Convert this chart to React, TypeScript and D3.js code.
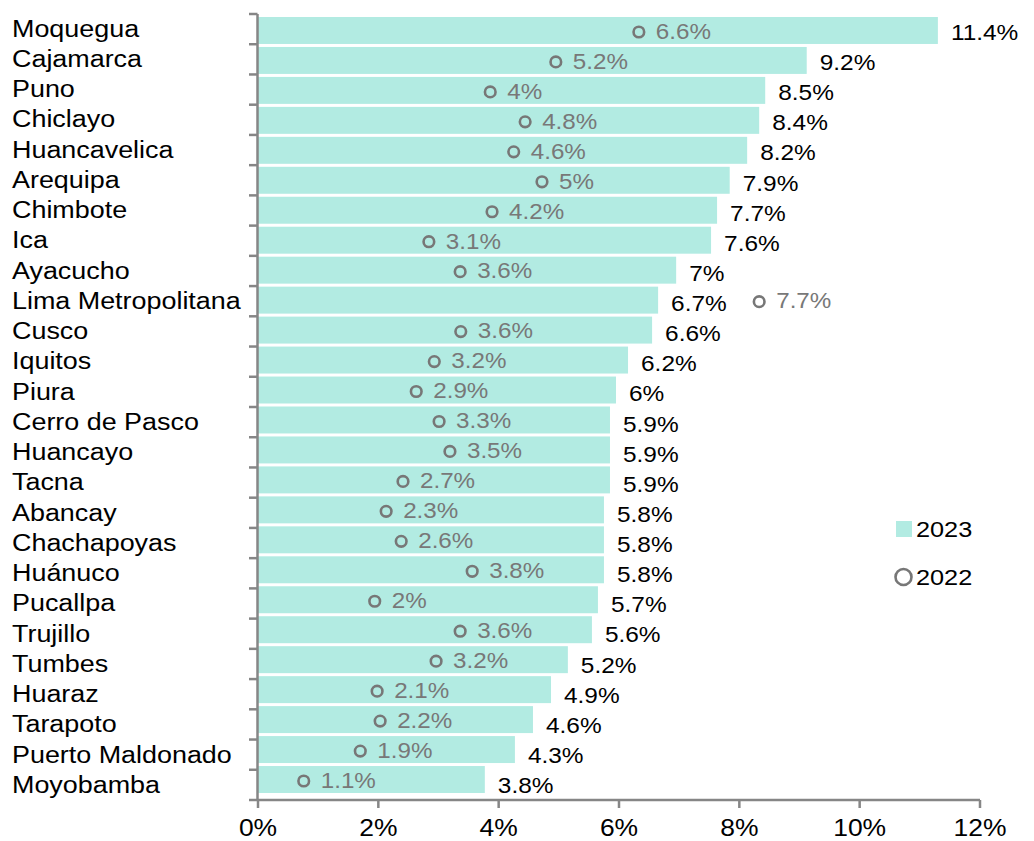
import React from "react";
import * as d3 from "d3";

const categories = [
  "Moquegua", "Cajamarca", "Puno", "Chiclayo", "Huancavelica", "Arequipa", "Chimbote", "Ica",
  "Ayacucho", "Lima Metropolitana", "Cusco", "Iquitos", "Piura", "Cerro de Pasco", "Huancayo",
  "Tacna", "Abancay", "Chachapoyas", "Huánuco", "Pucallpa", "Trujillo", "Tumbes", "Huaraz",
  "Tarapoto", "Puerto Maldonado", "Moyobamba",
];

// 2023 bar lengths
const values2023 = [
  11.3, 9.12, 8.43, 8.33, 8.13, 7.84, 7.63, 7.53, 6.95, 6.65, 6.55, 6.15, 5.95, 5.85, 5.85,
  5.85, 5.75, 5.75, 5.75, 5.65, 5.55, 5.15, 4.87, 4.57, 4.27, 3.77,
];
const labels2023 = [
  "11.4%", "9.2%", "8.5%", "8.4%", "8.2%", "7.9%", "7.7%", "7.6%", "7%", "6.7%", "6.6%", "6.2%",
  "6%", "5.9%", "5.9%", "5.9%", "5.8%", "5.8%", "5.8%", "5.7%", "5.6%", "5.2%", "4.9%", "4.6%",
  "4.3%", "3.8%",
];

// 2022 marker positions
const values2022 = [
  6.33, 4.95, 3.86, 4.44, 4.25, 4.72, 3.89, 2.84, 3.36, 8.33, 3.37, 2.93, 2.63, 3.01, 3.19,
  2.41, 2.13, 2.38, 3.56, 1.94, 3.36, 2.96, 1.98, 2.03, 1.7, 0.76,
];
const labels2022 = [
  "6.6%", "5.2%", "4%", "4.8%", "4.6%", "5%", "4.2%", "3.1%", "3.6%", "7.7%", "3.6%", "3.2%",
  "2.9%", "3.3%", "3.5%", "2.7%", "2.3%", "2.6%", "3.8%", "2%", "3.6%", "3.2%", "2.1%", "2.2%",
  "1.9%", "1.1%",
];

const xTicks = [0, 2, 4, 6, 8, 10, 12];
const legendItems = ["2023", "2022"];

const BAR = "#b2ebe2";
const AXIS = "#868686";
const MARK = "#777777";
const FONT = "'Liberation Sans', Arial, sans-serif";

function SText(props: { x: number; y: number; sx: number; size: number; fill: string; anchor?: string; children: string }) {
  return (
    <g transform={`translate(${props.x},${props.y}) scale(${props.sx},1)`}>
      <text x={0} y={0} fontSize={props.size} fill={props.fill} textAnchor={props.anchor || "start"}>
        {props.children}
      </text>
    </g>
  );
}

export default function App() {
  const W = 1034;
  const H = 841;
  const x = d3.scaleLinear().domain([0, 12]).range([258, 980]);
  const yBar = d3.scaleBand<string>().domain(categories).range([14, 796]).padding(0.1);
  const yCat = d3.scalePoint<string>().domain(categories).range([36.5, 793]);
  const yVal = d3.scalePoint<string>().domain(categories).range([40, 793]);
  const yTick = d3.scaleLinear().domain([0, categories.length]).range([14, 800]);
  const axisY = 800;

  return (
    <svg width={W} height={H} style={{ position: "absolute", left: 0, top: 0, background: "#fff" }} fontFamily={FONT}>
      {/* bars */}
      {categories.map((c, i) => (
        <rect key={"b" + c} x={x(0)} y={yBar(c)!} width={x(values2023[i]) - x(0)} height={yBar.bandwidth()} fill={BAR} />
      ))}
      {/* left axis */}
      <line x1={257.5} x2={257.5} y1={yTick(0)} y2={axisY} stroke={AXIS} strokeWidth={2.5} />
      {d3.range(categories.length + 1).map((k) => (
        <line key={"yt" + k} x1={249} x2={257.5} y1={yTick(k)} y2={yTick(k)} stroke={AXIS} strokeWidth={2.5} />
      ))}
      {/* bottom axis */}
      <line x1={257.5} x2={x(12)} y1={axisY} y2={axisY} stroke={AXIS} strokeWidth={2.5} />
      {xTicks.map((t) => (
        <g key={"xt" + t}>
          <line x1={x(t)} x2={x(t)} y1={axisY} y2={axisY + 8} stroke={AXIS} strokeWidth={2.5} />
          <SText x={x(t)} y={836} sx={1.15} size={23} fill="#000" anchor="middle">{t + "%"}</SText>
        </g>
      ))}
      {/* category labels */}
      {categories.map((c) => (
        <SText key={"c" + c} x={12} y={yCat(c)!} sx={1.17} size={23} fill="#000">{c}</SText>
      ))}
      {/* 2023 labels */}
      {categories.map((c, i) => (
        <SText key={"l23" + c} x={x(values2023[i]) + 13} y={yVal(c)!} sx={1.11} size={22} fill="#000">{labels2023[i]}</SText>
      ))}
      {/* 2022 markers */}
      {categories.map((c, i) => {
        const cy = yBar(c)! + yBar.bandwidth() / 2 + 1.5;
        const cx = x(values2022[i]);
        return (
          <g key={"m" + c}>
            <circle cx={cx} cy={cy} r={5.3} fill="none" stroke={MARK} strokeWidth={2.6} />
            <SText x={cx + 17} y={cy + 6.8} sx={1.1} size={22} fill="#787878">{labels2022[i]}</SText>
          </g>
        );
      })}
      {/* legend */}
      <rect x={896} y={521} width={16} height={16} fill={BAR} />
      <SText x={916} y={537} sx={1.15} size={22} fill="#000">{legendItems[0]}</SText>
      <circle cx={903.5} cy={577} r={8} fill="none" stroke={MARK} strokeWidth={2.6} />
      <SText x={916} y={585} sx={1.15} size={22} fill="#000">{legendItems[1]}</SText>
    </svg>
  );
}
